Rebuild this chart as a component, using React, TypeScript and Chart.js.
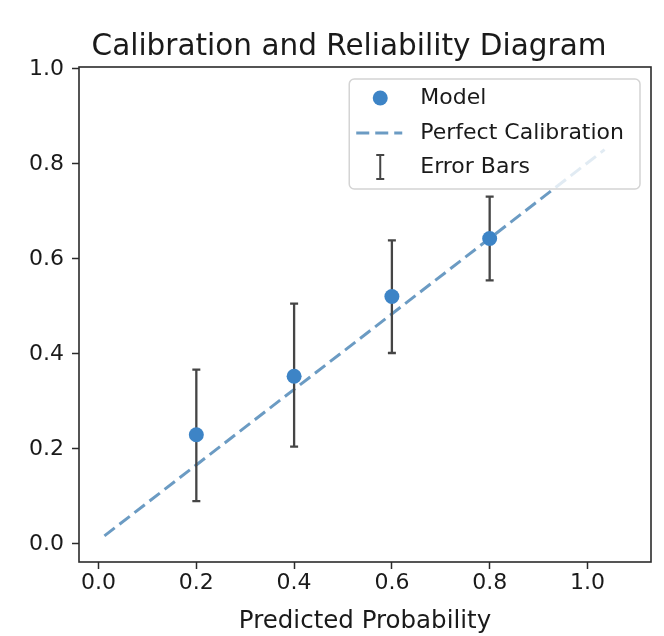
import React, { useEffect, useRef } from "react";
import { Chart, registerables } from "chart.js";

Chart.register(...registerables);

// ---- data ----
const binCenters = [0.2, 0.4, 0.6, 0.8];
const observedFreq = [0.23, 0.353, 0.521, 0.643];
const errLower = [0.09, 0.205, 0.402, 0.555];
const errUpper = [0.367, 0.506, 0.639, 0.731];
const refLineX = [0.012, 1.035];
const refLineY = [0.017, 0.83];
const xTicks = [0.0, 0.2, 0.4, 0.6, 0.8, 1.0];
const yTicks = [0.0, 0.2, 0.4, 0.6, 0.8, 1.0];
const titleText = "Calibration and Reliability Diagram";
const xLabel = "Predicted Probability";
const seriesLabels = ["Model", "Perfect Calibration", "Error Bars"];

// ---- styles ----
const FONT = "'DejaVu Sans', Verdana, sans-serif";
const POINT_COLOR = "#3d84c6";
const LINE_COLOR = "rgba(70,130,180,0.8)";
const ERR_COLOR = "#454545";
const AXIS_COLOR = "#2b2b2b";
const TEXT_COLOR = "#1a1a1a";
const DASH = [13, 6];

const errorBarPlugin = {
  id: "errorBars",
  beforeDatasetDraw(chart: any, args: any) {
    if (args.index !== 0) return;
    const { ctx } = chart;
    const x = chart.scales.x;
    const y = chart.scales.y;
    ctx.save();
    ctx.strokeStyle = ERR_COLOR;
    ctx.lineWidth = 2.3;
    binCenters.forEach((c, i) => {
      const px = x.getPixelForValue(c);
      const top = y.getPixelForValue(errUpper[i]);
      const bot = y.getPixelForValue(errLower[i]);
      ctx.beginPath();
      ctx.moveTo(px, top);
      ctx.lineTo(px, bot);
      ctx.moveTo(px - 4, top);
      ctx.lineTo(px + 4, top);
      ctx.moveTo(px - 4, bot);
      ctx.lineTo(px + 4, bot);
      ctx.stroke();
    });
    ctx.restore();
  },
};

const frameLegendPlugin = {
  id: "frameLegend",
  afterDraw(chart: any) {
    const { ctx, chartArea } = chart;
    ctx.save();
    // frame
    ctx.strokeStyle = AXIS_COLOR;
    ctx.lineWidth = 1.6;
    ctx.strokeRect(chartArea.left, chartArea.top, chartArea.right - chartArea.left, chartArea.bottom - chartArea.top);

    // title
    ctx.font = `29.5px ${FONT}`;
    ctx.fillStyle = TEXT_COLOR;
    ctx.textAlign = "center";
    ctx.textBaseline = "alphabetic";
    ctx.fillText(titleText, chartArea.left + 270, chartArea.top - 12);

    // legend
    ctx.font = `22px ${FONT}`;
    const maxW = Math.max(...seriesLabels.map((s) => ctx.measureText(s).width));
    const textOff = 71;
    const boxW = textOff + maxW + 16;
    const boxH = 110;
    const bx = chartArea.right - 11 - boxW;
    const by = chartArea.top + 12;
    ctx.beginPath();
    if (ctx.roundRect) ctx.roundRect(bx, by, boxW, boxH, 5);
    else ctx.rect(bx, by, boxW, boxH);
    ctx.fillStyle = "rgba(255,255,255,0.8)";
    ctx.fill();
    ctx.strokeStyle = "#d4d4d4";
    ctx.lineWidth = 1.5;
    ctx.stroke();

    const rows = [by + 19, by + 54, by + 88];
    const iconX = bx + 31;
    // marker
    ctx.beginPath();
    ctx.arc(iconX, rows[0], 7.5, 0, Math.PI * 2);
    ctx.fillStyle = POINT_COLOR;
    ctx.fill();
    // dashed line
    ctx.beginPath();
    ctx.setLineDash(DASH);
    ctx.strokeStyle = LINE_COLOR;
    ctx.lineWidth = 3;
    ctx.moveTo(bx + 7, rows[1]);
    ctx.lineTo(bx + 53, rows[1]);
    ctx.stroke();
    ctx.setLineDash([]);
    // error bar icon
    ctx.beginPath();
    ctx.strokeStyle = ERR_COLOR;
    ctx.lineWidth = 2;
    ctx.moveTo(iconX, rows[2] - 12);
    ctx.lineTo(iconX, rows[2] + 12);
    ctx.moveTo(iconX - 4, rows[2] - 12);
    ctx.lineTo(iconX + 4, rows[2] - 12);
    ctx.moveTo(iconX - 4, rows[2] + 12);
    ctx.lineTo(iconX + 4, rows[2] + 12);
    ctx.stroke();
    // texts
    ctx.fillStyle = TEXT_COLOR;
    ctx.textBaseline = "middle";
    ctx.textAlign = "left";
    seriesLabels.forEach((s, i) => ctx.fillText(s, bx + textOff, rows[i]));
    ctx.restore();
  },
};

export default function App() {
  const ref = useRef<HTMLCanvasElement | null>(null);

  useEffect(() => {
    document.body.style.margin = "0";
    const canvas = ref.current;
    if (!canvas) return;
    const chart = new Chart(canvas, {
      type: "scatter",
      data: {
        datasets: [
          {
            label: seriesLabels[0],
            data: binCenters.map((x, i) => ({ x, y: observedFreq[i] })),
            pointRadius: 7.5,
            pointHoverRadius: 7.5,
            backgroundColor: POINT_COLOR,
            borderWidth: 0,
          },
          {
            type: "line",
            label: seriesLabels[1],
            data: refLineX.map((x, i) => ({ x, y: refLineY[i] })),
            showLine: true,
            borderColor: LINE_COLOR,
            borderWidth: 3,
            borderDash: DASH,
            pointRadius: 0,
            fill: false,
          } as any,
        ],
      },
      options: {
        animation: false,
        responsive: false,
        layout: { padding: { left: 0, right: 13, top: 67, bottom: 0 } },
        plugins: {
          legend: { display: false },
          tooltip: { enabled: false },
          title: { display: false },
        },
        scales: {
          x: {
            type: "linear",
            min: -0.04,
            max: 1.13,
            afterBuildTicks: (s: any) => {
              s.ticks = xTicks.map((v) => ({ value: v }));
            },
            afterFit: (s: any) => {
              s.height = 74;
            },
            ticks: {
              color: TEXT_COLOR,
              font: { family: FONT, size: 22 },
              padding: 1,
              callback: (v: any) => Number(v).toFixed(1),
            },
            grid: {
              display: true,
              drawOnChartArea: false,
              drawTicks: true,
              tickLength: 7,
              tickColor: AXIS_COLOR,
              tickWidth: 1.5,
            },
            border: { display: false },
            title: {
              display: true,
              text: xLabel,
              color: TEXT_COLOR,
              font: { family: FONT, size: 24.5 },
              padding: { top: 0, bottom: 0 },
            },
          },
          y: {
            type: "linear",
            min: -0.038,
            max: 1.004,
            afterBuildTicks: (s: any) => {
              s.ticks = yTicks.map((v) => ({ value: v }));
            },
            afterFit: (s: any) => {
              s.width = 79;
            },
            ticks: {
              color: TEXT_COLOR,
              font: { family: FONT, size: 22 },
              padding: 8,
              callback: (v: any) => Number(v).toFixed(1),
            },
            grid: {
              display: true,
              drawOnChartArea: false,
              drawTicks: true,
              tickLength: 7,
              tickColor: AXIS_COLOR,
              tickWidth: 1.5,
            },
            border: { display: false },
          },
        },
      },
      plugins: [errorBarPlugin, frameLegendPlugin],
    });
    return () => chart.destroy();
  }, []);

  return <canvas ref={ref} width={664} height={636} style={{ display: "block" }} />;
}
